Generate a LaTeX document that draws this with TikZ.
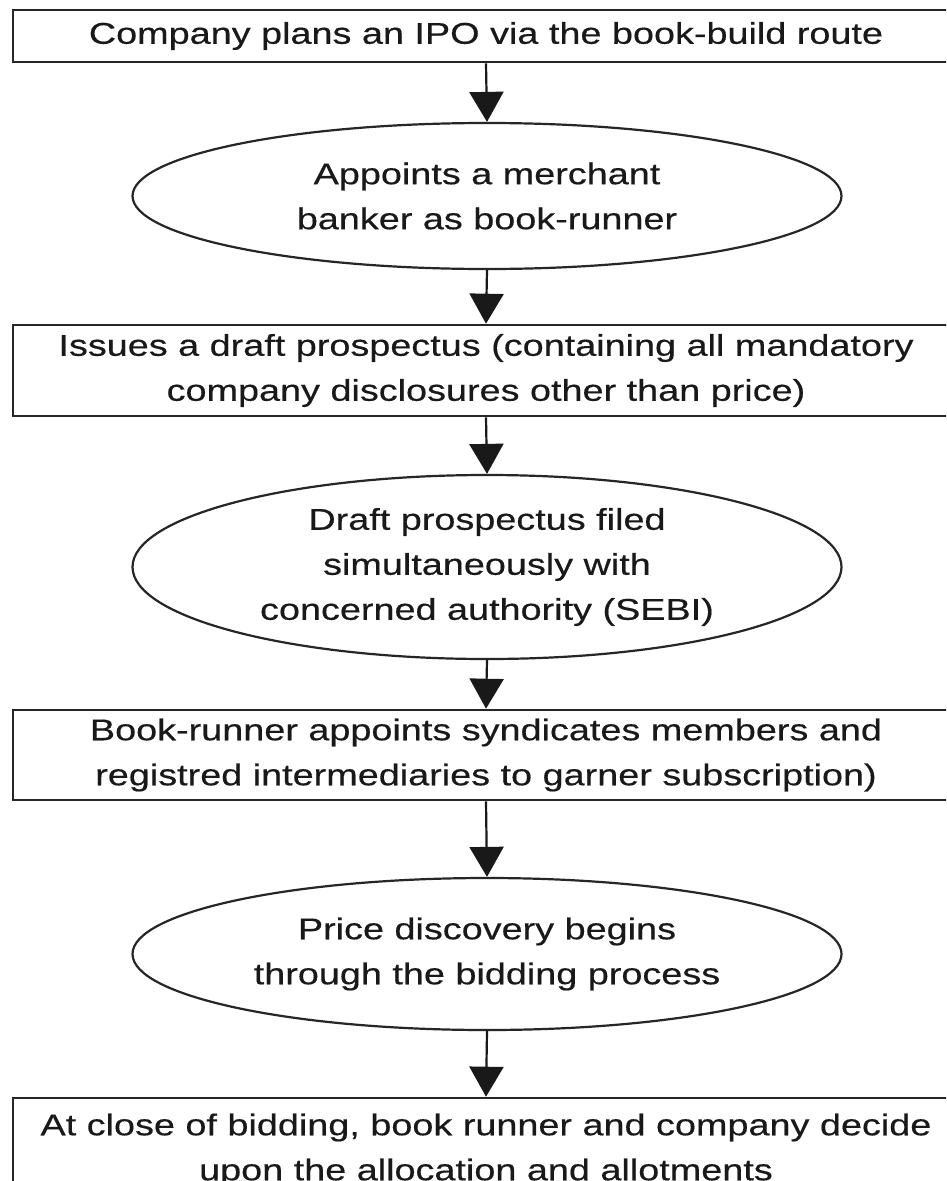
\documentclass[tikz,border=0pt]{standalone}
\usepackage{fontspec}
\setmainfont{Liberation Sans}[FakeStretch=1.26,FakeBold=0.4]
\usetikzlibrary{shapes.geometric,arrows.meta}
\tikzset{
  stepbox/.style={draw=black!85, line width=2.6pt, rectangle, minimum width=946pt,
    inner sep=0pt, align=center, font=\flowfont, text=black!90},
  stepoval/.style={draw=black!85, line width=2.2pt, ellipse, minimum width=709pt,
    inner sep=0pt, align=center, font=\flowfont, text=black!90},
  flowarrow/.style={draw=black!90, line width=2.2pt,
    -{Triangle[width=34pt,length=30pt]}}
}
\newcommand{\flowfont}{\fontsize{30}{45}\selectfont}
\begin{document}
\begin{tikzpicture}[x=1pt,y=-1pt]
  \useasboundingbox (0,0) rectangle (946,1181);
  \clip (0,0) rectangle (946,1181);
  \fill[white] (0,0) rectangle (946,1181);

  \node[stepbox, minimum height=52pt] (b1) at (486,36)
    {Company plans an IPO via the book-build route};
  \node[stepoval, minimum height=146pt] (e1) at (487,196)
    {Appoints a merchant\\banker as book-runner};
  \node[stepbox, minimum height=91pt] (b2) at (486,370.5)
    {Issues a draft prospectus (containing all mandatory\\company disclosures other than price)};
  \node[stepoval, minimum height=184pt] (e2) at (487,567)
    {Draft prospectus filed\\simultaneously with\\concerned authority (SEBI)};
  \node[stepbox, minimum height=90pt] (b3) at (486,755)
    {Book-runner appoints syndicates members and\\registred intermediaries to garner subscription)};
  \node[stepoval, minimum height=152pt] (e3) at (487,954)
    {Price discovery begins\\through the bidding process};
  \node[stepbox, minimum height=104pt] (b4) at (486,1150)
    {At close of bidding, book runner and company decide\\upon the allocation and allotments};

  \draw[flowarrow] (b1.south) -- (e1.north);
  \draw[flowarrow] (e1.south) -- (b2.north);
  \draw[flowarrow] (b2.south) -- (e2.north);
  \draw[flowarrow] (e2.south) -- (b3.north);
  \draw[flowarrow] (b3.south) -- (e3.north);
  \draw[flowarrow] (e3.south) -- (b4.north);
\end{tikzpicture}
\end{document}
